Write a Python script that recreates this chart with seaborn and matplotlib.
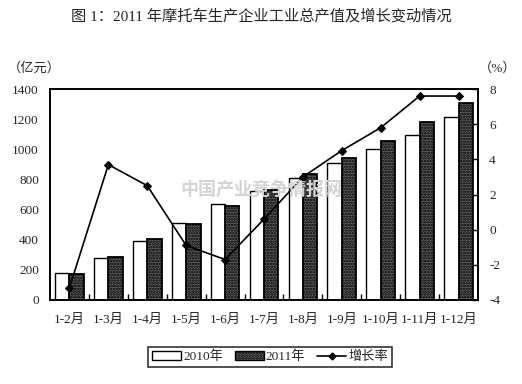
import numpy as np
import pandas as pd
import matplotlib
matplotlib.use("Agg")
import matplotlib.pyplot as plt
import seaborn as sns
from matplotlib.patches import Patch
from matplotlib.lines import Line2D

categories = ["1-2月", "1-3月", "1-4月", "1-5月", "1-6月", "1-7月",
              "1-8月", "1-9月", "1-10月", "1-11月", "1-12月"]
values_2010 = [177, 276, 393, 508, 634, 723, 807, 906, 1001, 1098, 1215]
values_2011 = [170, 287, 402, 504, 623, 729, 833, 943, 1056, 1182, 1304]
growth = [-3.3, 3.7, 2.5, -0.9, -1.7, 0.6, 3.0, 4.5, 5.8, 7.6, 7.6]
series_names = ["2010年", "2011年"]
line_name = "增长率"

sns.set_theme(style="white")
plt.rcParams["font.family"] = ["Liberation Serif", "Noto Sans CJK SC"]
plt.rcParams["axes.unicode_minus"] = False
plt.rcParams["hatch.linewidth"] = 1.2

df = pd.DataFrame({
    "cat": categories * 2,
    "val": values_2010 + values_2011,
    "year": [series_names[0]] * len(categories) + [series_names[1]] * len(categories),
})

fig = plt.figure(figsize=(5.22, 3.84), dpi=100)
ax = fig.add_axes([50 / 522, 1 - 300 / 384, 428 / 522, 211 / 384])

fig.text(0.5, 1 - 190 / 384, "中国产业竞争情报网", ha="center", va="center",
         fontsize=13, color="#d4d4d4", fontweight="bold", zorder=0)

sns.barplot(data=df, x="cat", y="val", hue="year", hue_order=series_names,
            order=categories, palette=["white", "#5e5e5e"], width=0.74,
            edgecolor="black", linewidth=1.0, ax=ax, legend=False)
n = len(categories)
for i, p in enumerate(ax.patches[:2 * n]):
    if i >= n:
        p.set_hatch("......")
        p.set_linewidth(1.3)
ax.patch.set_alpha(0)

ax.set_xlim(-0.5, n - 0.5)
ax.set_ylim(0, 1400)
ax.set_yticks(range(0, 1401, 200))
ax.set_xlabel("")
ax.set_ylabel("")
ax.set_xticks(range(n))
ax.set_xticklabels(categories, fontsize=9.5)
ax.set_xticks(np.arange(0.5, n - 0.5, 1), minor=True)
ax.tick_params(axis="x", which="major", length=0, pad=10)
ax.tick_params(axis="x", which="minor", length=4, direction="in", width=1, color="black", bottom=True)
ax.tick_params(axis="y", length=0, labelsize=9.5, pad=8)
for s in ax.spines.values():
    s.set_color("black")
    s.set_linewidth(1.2)

ax2 = ax.twinx()
sns.lineplot(x=np.arange(n), y=growth, ax=ax2, color="black", marker="D",
             markersize=4, linewidth=1.2, markeredgecolor="black")
ax2.set_ylim(-4, 8)
ax2.set_yticks(range(-4, 9, 2))
ax2.tick_params(axis="y", direction="in", length=4, width=1, color="black",
                labelsize=9.5, pad=8, right=True)
ax2.set_ylabel("")
for s in ax2.spines.values():
    s.set_color("black")
    s.set_linewidth(1.2)

fig.text(0.5, 1 - 16 / 384, "图 1：2011 年摩托车生产企业工业总产值及增长变动情况",
         ha="center", va="center", fontsize=11)
fig.text(0.015, 1 - 68 / 384, "（亿元）", ha="left", va="center", fontsize=9.5)
fig.text(0.99, 1 - 68 / 384, "（%）", ha="right", va="center", fontsize=9.5)

handles = [
    Patch(facecolor="white", edgecolor="black", linewidth=1.0),
    Patch(facecolor="#5e5e5e", edgecolor="black", hatch="......", linewidth=1.0),
    Line2D([0], [0], color="black", marker="D", markersize=3.5, linewidth=1.2),
]
leg = fig.legend(handles, series_names + [line_name], loc="center",
                 bbox_to_anchor=(270 / 522, 1 - 357 / 384), ncol=3, fontsize=9.5,
                 frameon=True, fancybox=False, edgecolor="black",
                 handlelength=2.2, handletextpad=0.15, columnspacing=0.9,
                 borderpad=0.3)
leg.get_frame().set_linewidth(1.2)

fig.savefig("out.png", dpi=100)
